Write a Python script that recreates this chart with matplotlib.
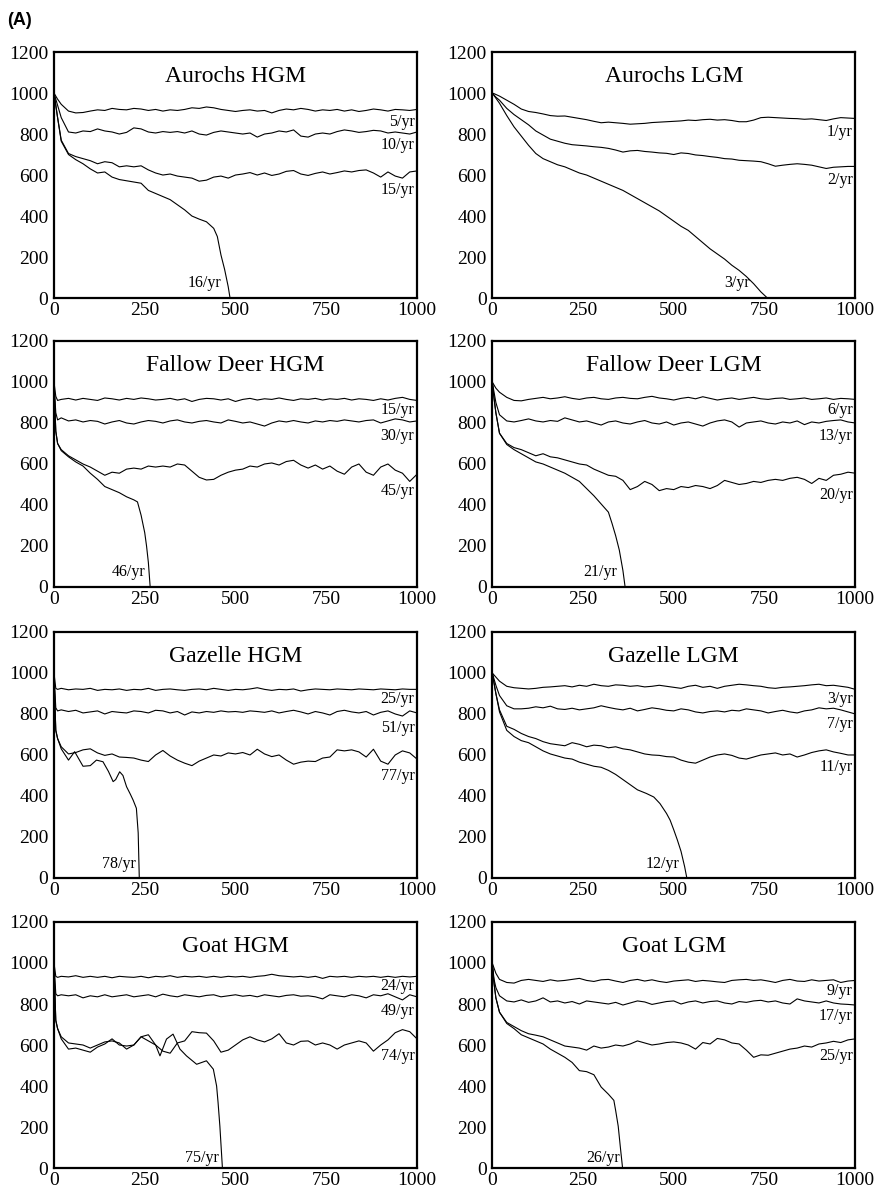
import matplotlib
matplotlib.use("Agg")
import matplotlib.pyplot as plt

plt.rcParams['font.family'] = ['Liberation Serif', 'DejaVu Serif']

# common sampling of the simulated years for the surviving populations
YEARS = [0, 5, 10] + list(range(20, 1001, 20))

# ---------------- Aurochs HGM ----------------
AUR_HGM_5 = [1000, 985, 970, 945, 912, 903, 905, 912, 918, 915,
             925, 920, 918, 925, 922, 915, 920, 912, 918, 915,
             920, 928, 925, 932, 928, 920, 915, 910, 915, 918,
             912, 915, 903, 915, 922, 918, 925, 920, 912, 918,
             915, 920, 912, 918, 910, 915, 922, 918, 912, 920,
             918, 915, 920]
AUR_HGM_10 = [1000, 970, 940, 880, 810, 805, 815, 812, 825, 815,
              810, 800, 808, 830, 825, 810, 805, 812, 808, 812,
              805, 815, 800, 795, 808, 815, 810, 805, 800, 805,
              785, 800, 805, 815, 810, 820, 790, 785, 800, 805,
              800, 812, 820, 815, 808, 812, 818, 815, 805, 810,
              805, 800, 810]
AUR_HGM_15 = [1000, 940, 880, 770, 705, 690, 680, 670, 655, 665,
              660, 640, 645, 640, 645, 625, 610, 600, 605, 595,
              590, 585, 570, 575, 590, 595, 585, 600, 605, 612,
              600, 610, 598, 605, 618, 622, 605, 598, 608, 615,
              605, 612, 620, 615, 622, 625, 610, 590, 615, 595,
              585, 615, 620]
AUR_HGM_16_X = [0, 5, 10, 20, 40, 60, 80, 100, 120, 140, 160, 180, 200, 220, 240, 260,
                280, 300, 320, 340, 360, 380, 400, 420, 440, 450, 460, 470, 480, 485]
AUR_HGM_16 = [1000, 940, 880, 765, 700, 675, 655, 630, 610, 615, 590, 578, 572, 566, 560, 525,
              510, 495, 480, 455, 430, 400, 385, 372, 340, 300, 210, 140, 55, 0]

# ---------------- Aurochs LGM ----------------
AUR_LGM_1 = [1000, 997, 993, 985, 965, 945, 922, 910, 905, 898,
             890, 887, 888, 882, 876, 870, 862, 855, 858, 855,
             852, 848, 850, 852, 856, 858, 860, 862, 864, 868,
             866, 870, 872, 868, 870, 866, 860, 860, 868, 880,
             882, 880, 878, 876, 875, 872, 874, 870, 866, 874,
             880, 878, 876]
AUR_LGM_2 = [1000, 990, 980, 965, 925, 895, 870, 845, 815, 795,
             775, 765, 755, 748, 745, 742, 738, 735, 730, 722,
             712, 718, 720, 715, 712, 708, 706, 700, 708, 705,
             698, 695, 690, 686, 680, 678, 672, 670, 668, 665,
             655, 643, 648, 652, 655, 652, 648, 640, 632, 638,
             640, 642, 642]
AUR_LGM_3_X = [0, 20, 40, 60, 80, 100, 120, 140, 160, 180, 200, 220, 240, 260, 280, 300,
               320, 340, 360, 380, 400, 420, 440, 460, 480, 500, 520, 540, 560, 580, 600,
               620, 640, 660, 680, 700, 720, 740, 758]
AUR_LGM_3 = [1000, 950, 890, 835, 790, 745, 705, 680, 665, 650, 640, 625, 610, 600, 585, 570,
             555, 540, 525, 505, 485, 465, 445, 425, 400, 375, 350, 330, 300, 270, 240,
             215, 190, 160, 135, 105, 70, 30, 0]

# ---------------- Fallow Deer HGM ----------------
FAL_HGM_15 = [1000, 930, 910, 915, 920, 912, 920, 915, 910, 922,
              918, 912, 920, 915, 922, 918, 912, 915, 920, 912,
              918, 905, 915, 920, 918, 912, 918, 905, 915, 920,
              912, 918, 915, 922, 915, 910, 918, 915, 920, 912,
              918, 915, 920, 912, 918, 915, 910, 918, 912, 920,
              925, 915, 910]
FAL_HGM_30 = [1000, 850, 815, 825, 810, 815, 805, 812, 808, 795,
              805, 812, 800, 795, 805, 812, 808, 800, 810, 815,
              805, 800, 808, 812, 805, 800, 815, 808, 800, 805,
              795, 785, 800, 810, 805, 812, 805, 800, 810, 805,
              812, 808, 815, 810, 805, 812, 815, 800, 810, 820,
              815, 805, 810]
FAL_HGM_45 = [1000, 760, 700, 670, 640, 620, 600, 585, 565, 545,
              560, 555, 575, 580, 575, 590, 585, 590, 585, 600,
              595, 565, 535, 522, 525, 545, 560, 570, 575, 590,
              585, 600, 605, 595, 612, 618, 595, 580, 595, 575,
              590, 565, 550, 585, 600, 560, 545, 585, 600, 570,
              555, 515, 550]
FAL_HGM_46_X = [0, 5, 10, 20, 40, 60, 80, 100, 120, 140, 160, 180, 200, 220, 230,
                240, 250, 255, 260, 265]
FAL_HGM_46 = [1000, 760, 700, 665, 635, 610, 590, 555, 525, 490, 475, 460, 440, 425, 415,
              350, 265, 200, 120, 0]

# ---------------- Fallow Deer LGM ----------------
FAL_LGM_6 = [1000, 985, 970, 950, 925, 910, 908, 915, 920, 925,
             918, 922, 928, 920, 915, 922, 925, 918, 915, 922,
             925, 920, 918, 925, 930, 922, 918, 912, 920, 925,
             918, 928, 920, 912, 918, 922, 915, 920, 925, 918,
             915, 920, 922, 915, 918, 922, 915, 918, 922, 915,
             920, 918, 915]
FAL_LGM_13 = [1000, 950, 900, 840, 810, 805, 812, 820, 810, 805,
              812, 808, 825, 815, 805, 810, 800, 790, 805, 810,
              800, 795, 805, 812, 800, 795, 805, 790, 800, 805,
              795, 785, 800, 810, 815, 805, 780, 800, 805, 810,
              800, 795, 805, 800, 810, 792, 805, 800, 808, 812,
              815, 805, 800]
FAL_LGM_20 = [1000, 920, 850, 750, 700, 680, 670, 655, 640, 650,
              635, 630, 620, 610, 600, 595, 575, 560, 545, 540,
              520, 475, 490, 515, 500, 470, 480, 475, 490, 485,
              495, 490, 480, 495, 520, 510, 500, 505, 515, 510,
              520, 525, 520, 530, 535, 525, 505, 530, 520, 545,
              550, 560, 555]
FAL_LGM_21_X = [0, 5, 10, 20, 40, 60, 80, 100, 120, 140, 160, 180, 200, 220, 240, 260,
                280, 300, 320, 330, 340, 350, 360, 366]
FAL_LGM_21 = [1000, 920, 850, 750, 695, 670, 650, 630, 610, 600, 585, 570, 555, 535, 515, 480,
              445, 405, 365, 310, 250, 180, 80, 0]

# ---------------- Gazelle HGM ----------------
GAZ_HGM_25 = [1000, 925, 920, 925, 918, 922, 920, 925, 915, 920,
              918, 922, 915, 920, 918, 925, 915, 920, 922, 918,
              915, 920, 922, 918, 925, 920, 915, 920, 918, 922,
              928, 920, 915, 920, 918, 922, 912, 918, 922, 920,
              918, 922, 920, 918, 922, 920, 918, 922, 920, 918,
              922, 920, 920]
GAZ_HGM_51 = [1000, 830, 815, 820, 812, 818, 805, 810, 815, 800,
              812, 808, 805, 815, 812, 805, 818, 815, 805, 812,
              795, 810, 805, 812, 808, 815, 810, 812, 808, 815,
              812, 808, 815, 805, 812, 818, 810, 800, 812, 805,
              795, 812, 818, 810, 805, 812, 795, 808, 815, 800,
              790, 815, 805]
GAZ_HGM_77 = [1000, 720, 680, 640, 605, 612, 625, 630, 610, 598,
              605, 590, 588, 585, 575, 568, 600, 622, 595, 575,
              560, 548, 570, 585, 600, 595, 610, 605, 612, 600,
              628, 605, 592, 600, 575, 555, 565, 570, 568, 585,
              590, 625, 620, 625, 615, 590, 628, 570, 555, 600,
              620, 610, 580]
GAZ_HGM_78_X = [0, 5, 10, 20, 40, 57, 80, 100, 117, 135, 150, 163, 170, 181, 190, 200,
                210, 218, 227, 232, 235]
GAZ_HGM_78 = [1000, 720, 680, 630, 575, 616, 545, 548, 575, 567, 520, 470, 480, 518, 500, 445,
              410, 380, 340, 220, 0]

# ---------------- Gazelle LGM ----------------
GAZ_LGM_3 = [1000, 990, 980, 960, 935, 928, 925, 922, 925, 930,
             932, 935, 938, 932, 940, 935, 945, 938, 935, 942,
             940, 935, 938, 932, 935, 940, 935, 930, 925, 935,
             940, 930, 935, 925, 935, 940, 945, 942, 938, 935,
             928, 925, 930, 932, 935, 938, 942, 945, 938, 940,
             935, 930, 920]
GAZ_LGM_7 = [1000, 970, 940, 890, 840, 825, 825, 828, 835, 830,
             838, 825, 822, 828, 820, 825, 830, 840, 832, 825,
             820, 828, 815, 822, 830, 825, 818, 815, 825, 820,
             810, 805, 812, 815, 810, 818, 815, 825, 820, 815,
             805, 812, 818, 810, 805, 815, 820, 830, 825, 828,
             820, 810, 800]
GAZ_LGM_11 = [1000, 950, 900, 820, 740, 725, 705, 690, 680, 665,
              655, 650, 645, 660, 652, 640, 648, 645, 635, 640,
              630, 625, 615, 605, 600, 598, 592, 590, 575, 565,
              560, 575, 590, 600, 605, 598, 585, 580, 590, 600,
              605, 610, 600, 605, 590, 600, 612, 620, 625, 615,
              608, 600, 600]
GAZ_LGM_12_X = [0, 5, 10, 20, 40, 60, 80, 100, 120, 140, 160, 180, 200, 220, 240, 260,
                280, 300, 320, 340, 360, 380, 400, 425, 445, 462, 480, 490, 500, 510,
                520, 530, 536]
GAZ_LGM_12 = [1000, 950, 900, 810, 720, 690, 670, 660, 640, 620, 605, 595, 585, 580, 565, 555,
              545, 540, 525, 505, 480, 455, 430, 412, 395, 363, 315, 282, 235, 185,
              130, 55, 0]

# ---------------- Goat HGM ----------------
GOAT_HGM_24 = [1000, 935, 930, 935, 932, 938, 930, 935, 930, 935,
               928, 935, 932, 930, 935, 928, 935, 932, 938, 930,
               935, 932, 935, 930, 935, 930, 935, 932, 935, 930,
               935, 938, 945, 938, 935, 932, 935, 930, 935, 925,
               935, 932, 935, 930, 935, 932, 935, 930, 935, 930,
               935, 932, 935]
GOAT_HGM_49 = [1000, 850, 840, 845, 840, 845, 830, 840, 835, 845,
               835, 840, 845, 835, 840, 845, 835, 848, 840, 835,
               845, 840, 835, 842, 845, 835, 840, 845, 838, 842,
               835, 845, 840, 835, 842, 845, 838, 840, 835, 825,
               845, 840, 835, 845, 840, 830, 845, 840, 850, 835,
               820, 845, 835]
GOAT_HGM_74 = [1000, 720, 680, 630, 580, 585, 575, 565, 590, 605,
               630, 600, 595, 600, 640, 620, 600, 570, 560, 610,
               620, 665, 660, 658, 620, 565, 575, 600, 625, 640,
               625, 615, 630, 655, 610, 600, 618, 620, 600, 610,
               600, 580, 600, 610, 620, 610, 570, 600, 625, 660,
               675, 665, 630]
GOAT_HGM_75_X = [0, 5, 10, 20, 40, 60, 80, 100, 120, 140, 160, 180, 200, 220, 240, 260,
                 280, 292, 310, 328, 347, 365, 393, 420, 439, 448, 452, 457, 464]
GOAT_HGM_75 = [1000, 720, 680, 640, 610, 605, 600, 585, 600, 615, 620, 610, 580, 600, 640, 650,
               600, 547, 629, 653, 580, 547, 506, 523, 482, 400, 320, 204, 0]

# ---------------- Goat LGM ----------------
GOAT_LGM_9 = [1000, 975, 950, 920, 905, 902, 915, 920, 915, 910,
              918, 912, 915, 920, 925, 915, 910, 918, 920, 912,
              905, 915, 920, 912, 918, 910, 905, 912, 915, 918,
              910, 915, 912, 908, 905, 915, 918, 920, 915, 918,
              912, 905, 915, 920, 912, 910, 918, 912, 915, 918,
              905, 912, 915]
GOAT_LGM_17 = [1000, 920, 880, 840, 815, 810, 820, 808, 815, 830,
               810, 815, 805, 812, 800, 815, 810, 805, 800, 808,
               795, 805, 815, 810, 798, 805, 812, 815, 800, 810,
               815, 805, 812, 815, 805, 800, 812, 808, 815, 818,
               810, 815, 805, 800, 825, 815, 810, 805, 815, 805,
               800, 798, 795]
GOAT_LGM_25 = [1000, 900, 830, 760, 710, 690, 670, 655, 648, 640,
               625, 610, 595, 590, 585, 575, 595, 585, 590, 600,
               595, 605, 620, 610, 600, 605, 612, 615, 610, 600,
               580, 612, 605, 632, 625, 610, 605, 575, 540, 552,
               550, 560, 570, 580, 585, 595, 590, 605, 610, 618,
               612, 625, 630]
GOAT_LGM_26_X = [0, 5, 10, 20, 40, 60, 80, 100, 120, 140, 160, 180, 200, 220, 240, 260,
                 280, 300, 320, 335, 340, 347, 353, 359]
GOAT_LGM_26 = [1000, 900, 830, 760, 705, 680, 650, 635, 620, 605, 580, 560, 540, 515, 475, 470,
               455, 395, 360, 330, 280, 204, 100, 0]

# label heights (population) for the rate labels
TITLES = ["Aurochs HGM", "Aurochs LGM", "Fallow Deer HGM", "Fallow Deer LGM",
          "Gazelle HGM", "Gazelle LGM", "Goat HGM", "Goat LGM"]


def panel(ax, title, curves, labels):
    for xs, ys in curves:
        ax.plot(xs, ys, color='black', lw=0.8)
    for txt, x, y, ha in labels:
        ax.text(x, y, txt, ha=ha, va='center', fontsize=11.5)
    ax.text(500, 1080, title, ha='center', va='center', fontsize=17)
    ax.set_xlim(0, 1000)
    ax.set_ylim(0, 1200)
    ax.set_xticks([0, 250, 500, 750, 1000])
    ax.set_yticks(range(0, 1201, 200))
    ax.tick_params(length=0, labelsize=14, pad=4)
    ax.tick_params(axis='x', pad=3)
    for s in ax.spines.values():
        s.set_linewidth(1.6)


fig = plt.figure(figsize=(8.79, 11.96), dpi=100)
lefts = [0.0614, 0.560]
bottoms = [0.7508, 0.5092, 0.2659, 0.0234]
axes = []
for b in bottoms:
    for l in lefts:
        axes.append(fig.add_axes([l, b, 0.413, 0.2057]))

R = 993
panel(axes[0], TITLES[0],
      [(YEARS, AUR_HGM_5), (YEARS, AUR_HGM_10), (YEARS, AUR_HGM_15), (AUR_HGM_16_X, AUR_HGM_16)],
      [("5/yr", R, 858, 'right'), ("10/yr", R, 745, 'right'),
       ("15/yr", R, 525, 'right'), ("16/yr", 462, 73, 'right')])
panel(axes[1], TITLES[1],
      [(YEARS, AUR_LGM_1), (YEARS, AUR_LGM_2), (AUR_LGM_3_X, AUR_LGM_3)],
      [("1/yr", R, 810, 'right'), ("2/yr", R, 574, 'right'), ("3/yr", 709, 73, 'right')])
panel(axes[2], TITLES[2],
      [(YEARS, FAL_HGM_15), (YEARS, FAL_HGM_30), (YEARS, FAL_HGM_45), (FAL_HGM_46_X, FAL_HGM_46)],
      [("15/yr", R, 863, 'right'), ("30/yr", R, 736, 'right'),
       ("45/yr", R, 467, 'right'), ("46/yr", 252, 72, 'right')])
panel(axes[3], TITLES[3],
      [(YEARS, FAL_LGM_6), (YEARS, FAL_LGM_13), (YEARS, FAL_LGM_20), (FAL_LGM_21_X, FAL_LGM_21)],
      [("6/yr", R, 863, 'right'), ("13/yr", R, 736, 'right'),
       ("20/yr", R, 451, 'right'), ("21/yr", 343, 72, 'right')])
panel(axes[4], TITLES[4],
      [(YEARS, GAZ_HGM_25), (YEARS, GAZ_HGM_51), (YEARS, GAZ_HGM_77), (GAZ_HGM_78_X, GAZ_HGM_78)],
      [("25/yr", R, 872, 'right'), ("51/yr", R, 733, 'right'),
       ("77/yr", R, 497, 'right'), ("78/yr", 225, 70, 'right')])
panel(axes[5], TITLES[5],
      [(YEARS, GAZ_LGM_3), (YEARS, GAZ_LGM_7), (YEARS, GAZ_LGM_11), (GAZ_LGM_12_X, GAZ_LGM_12)],
      [("3/yr", R, 874, 'right'), ("7/yr", R, 751, 'right'),
       ("11/yr", R, 543, 'right'), ("12/yr", 516, 70, 'right')])
panel(axes[6], TITLES[6],
      [(YEARS, GOAT_HGM_24), (YEARS, GOAT_HGM_49), (YEARS, GOAT_HGM_74), (GOAT_HGM_75_X, GOAT_HGM_75)],
      [("24/yr", R, 887, 'right'), ("49/yr", R, 767, 'right'),
       ("74/yr", R, 547, 'right'), ("75/yr", 453, 49, 'right')])
panel(axes[7], TITLES[7],
      [(YEARS, GOAT_LGM_9), (YEARS, GOAT_LGM_17), (YEARS, GOAT_LGM_25), (GOAT_LGM_26_X, GOAT_LGM_26)],
      [("9/yr", R, 865, 'right'), ("17/yr", R, 743, 'right'),
       ("25/yr", R, 547, 'right'), ("26/yr", 352, 49, 'right')])

fig.text(0.008, 0.983, "(A)", fontsize=13, fontweight='bold',
         family=['Liberation Sans', 'DejaVu Sans'], ha='left', va='center')

fig.savefig("out.png", dpi=100)
